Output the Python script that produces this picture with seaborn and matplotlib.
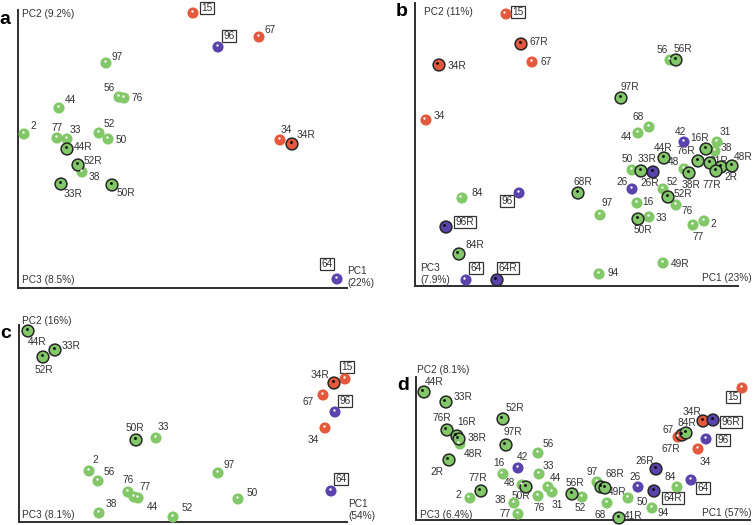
import pandas as pd
import seaborn as sns
import matplotlib.pyplot as plt
from matplotlib.transforms import offset_copy

sns.set_style('white')
plt.rcParams['font.family'] = ['Liberation Sans', 'DejaVu Sans']

#################### Data (PC scores, arbitrary units) ####################

a_names = ['15', '96', '67', '97', '56', '76', '44', '2', '77', '33', '52', '50',
           '44R', '52R', '38', '33R', '50R', '34', '34R', '64']
a_pc1 = [175, 200, 241, 88, 101, 106, 41, 6, 39, 49, 81, 90, 49, 60, 64, 43, 94, 262, 274, 319]
a_pc2 = [275, 241, 251, 225, 191, 190, 180, 154, 150, 149, 155, 149, 139, 123, 116, 104, 103, 148, 144, 9]

b_names = ['15', '67R', '67', '34R', '34', '56', '56R', '97R', '68', '44', '42', '16R', '31', '38',
           '44R', '76R', '31R', '2R', '77R', '48R', '48', '38R', '50', '33R', '26R', '26', '52',
           '52R', '76', '68R', '16', '97', '33', '50R', '2', '77', '84', '96', '96R', '84R', '64',
           '64R', '94', '49R']
b_pc1 = [91, 106, 117, 24, 11, 255, 261, 206, 234, 223, 269, 291, 302, 300,
         249, 283, 295, 306, 301, 317, 269, 274, 217, 226, 238, 217, 248,
         253, 261, 163, 222, 185, 234, 223, 289, 278, 47, 104, 31, 44, 51,
         82, 184, 248]
b_pc2 = [272, 242, 224, 221, 166, 226, 226, 188, 159, 153, 144, 137, 144, 135,
         128, 125, 123, 119, 115, 120, 117, 113, 116, 115, 114, 97, 97,
         89, 81, 93, 83, 71, 69, 67, 65, 61, 88, 93, 59, 32, 6,
         6, 12, 23]

c_names = ['44R', '33R', '52R', '15', '34R', '67', '96', '34', '50R', '33', '2', '56',
           '76', '77', '44', '38', '52', '97', '50', '64']
c_pc1 = [9, 36, 24, 326, 315, 304, 316, 306, 117, 137, 70, 79, 109, 115, 119, 80, 154, 199, 219, 312]
c_pc2 = [191, 172, 165, 143, 139, 127, 110, 94, 82, 84, 51, 41, 30, 25, 24, 9, 5, 49, 23, 31]

d_names = ['44R', '33R', '76R', '16R', '38R', '48R', '2R', '52R', '97R', '56', '42', '16',
           '33', '44', '31', '48', '50R', '76', '77R', '2', '38', '77', '56R', '52', '97',
           '49R', '68R', '68', '41R', '50', '94', '26', '26R', '84', '64R', '64', '34R',
           '96R', '67', '67R', '84R', '96', '34', '15']
d_pc1 = [8, 30, 31, 41, 43, 44, 33, 87, 90, 122, 102, 87,
         123, 132, 136, 106, 110, 122, 65, 54, 98, 102, 156, 166, 181,
         185, 189, 191, 203, 212, 236, 222, 240, 261, 238, 275, 287,
         297, 262, 266, 270, 290, 282, 326]
d_pc2 = [128, 118, 90, 84, 81, 76, 60, 101, 75, 67, 52, 46,
         46, 33, 28, 35, 33, 24, 29, 22, 17, 6, 26, 23, 38,
         33, 32, 17, 2, 22, 12, 33, 51, 33, 29, 40, 99,
         100, 83, 85, 87, 81, 71, 132]

red_ids = ['15', '67', '34']
purple_ids = ['96', '64', '42', '26']
boxed_ids = ['15', '96', '64']
plain_r = {'b': ['49R'], 'd': ['48R']}

#################### Layout (label offsets in pixels, x right / y up) ####################

a_off = [(14, 5), (11, 11), (11, 7), (11, 6), (-10, 9), (13, 0), (11, 8), (9, 8), (0, 10), (8, 9),
         (10, 9), (13, -1), (16, 2), (15, 4), (12, -5), (12, -10), (14, -8), (6, 10), (14, 9), (-10, 15)]
b_off = [(12, 2), (18, 2), (14, 0), (18, -1), (13, 4), (-8, 10), (7, 11), (9, 11), (-11, 10), (-12, -4),
         (-4, 10), (-6, 11), (8, 10), (11, 3), (-1, 10), (-12, 10), (9, 2), (10, -10), (-4, -14), (11, 9),
         (-10, 7), (2, -12), (-5, 11), (6, 12), (-3, -11), (-10, 7), (9, 7), (15, 3), (11, -6), (5, 11),
         (11, 1), (7, 12), (12, -1), (5, -11), (9, -3), (5, -12), (15, 5), (-12, -8), (19, 5), (16, 9),
         (10, 12), (11, 12), (14, 1), (17, -1)]
c_off = [(9, -11), (16, 4), (1, -13), (2, 12), (-14, 8), (-15, -7), (10, 11), (-12, -12), (-1, 12), (7, 11),
         (6, 11), (11, 9), (0, 12), (11, 10), (14, -9), (12, 9), (14, 9), (11, 8), (14, 6), (10, 12)]
d_off = [(10, 10), (17, 5), (-5, 12), (10, 14), (18, 1), (13, -10), (-12, -12), (12, 11), (7, 13), (10, 9),
         (4, 11), (-4, 11), (9, 8), (7, 9), (5, -13), (-13, 2), (-5, -9), (1, -12), (-3, 13), (-12, 3),
         (-14, 3), (-13, 0), (3, 11), (-2, -11), (-5, 10), (16, -5), (10, 14), (-7, -12), (14, 2), (14, -4),
         (11, -5), (-3, 10), (-11, 8), (-7, 10), (19, -7), (12, -8), (-11, 9), (18, -2), (-10, 7), (-11, -14),
         (1, 10), (17, -1), (7, -13), (-9, -9)]

W, H = 753, 525
# axes corner (left, bottom) and size in pixels, axis titles
panels = [
    ('a', a_names, a_pc1, a_pc2, a_off, (18, 288, 329, 278),
     [('PC2 (9.2%)', 4, 274), ('PC3 (8.5%)', 4, 8), ('PC1\n(22%)', 329, 11)]),
    ('b', b_names, b_pc1, b_pc2, b_off, (415, 286, 323, 283),
     [('PC2 (11%)', 9, 274), ('PC3\n(7.9%)', 5, 12), ('PC1 (23%)', 287, 8)]),
    ('c', c_names, c_pc1, c_pc2, c_off, (19, 522, 328, 197),
     [('PC2 (16%)', 3, 201), ('PC3 (8.1%)', 3, 7), ('PC1\n(54%)', 329, 12)]),
    ('d', d_names, d_pc1, d_pc2, d_off, (416, 520, 334, 143),
     [('PC2 (8.1%)', 1, 150), ('PC3 (6.4%)', 4, 5), ('PC1 (57%)', 286, 7)]),
]

palette = {'green': '#82c768', 'red': '#e4583b', 'purple': '#5a43ad'}
txt_col = '#333333'


def group_of(name):
    base = name.rstrip('R')
    if base in red_ids:
        return 'red'
    if base in purple_ids:
        return 'purple'
    return 'green'


fig = plt.figure(figsize=(W / 100, H / 100), dpi=100)

for letter, names, pc1, pc2, offs, (left, bottom, w, h), titles in panels:
    ax = fig.add_axes([left / W, 1 - bottom / H, w / W, h / H])
    df = pd.DataFrame({'name': names, 'pc1': pc1, 'pc2': pc2})
    df['group'] = df['name'].apply(group_of)
    df['ring'] = df['name'].str.endswith('R') & ~df['name'].isin(plain_r.get(letter, []))

    plain = df[~df['ring']]
    ringed = df[df['ring']]
    sns.scatterplot(data=plain, x='pc1', y='pc2', hue='group', palette=palette, s=64,
                    edgecolor='none', legend=False, ax=ax, zorder=3, clip_on=False)
    sns.scatterplot(data=ringed, x='pc1', y='pc2', hue='group', palette=palette, s=72,
                    edgecolor='#262626', linewidth=1.1, legend=False, ax=ax, zorder=4, clip_on=False)

    # little highlight dots: white on plain, black on ringed
    hl = offset_copy(ax.transData, fig=fig, x=-1.5, y=2, units='dots')
    ax.scatter(plain['pc1'], plain['pc2'], s=3, color='white', transform=hl, zorder=5,
               clip_on=False, linewidths=0)
    ax.scatter(ringed['pc1'], ringed['pc2'], s=4, color='black', transform=hl, zorder=5,
               clip_on=False, linewidths=0)

    for (name, x, y), (dx, dy) in zip(df[['name', 'pc1', 'pc2']].values, offs):
        box = None
        if name.rstrip('R') in boxed_ids:
            box = dict(boxstyle='square,pad=0.12', fc='white', ec='#333333', lw=0.9)
        ax.annotate(name, (x, y), xytext=(dx, dy), textcoords='offset pixels',
                    ha='center', va='center', fontsize=7.3, color=txt_col,
                    bbox=box, zorder=2, annotation_clip=False)

    for t, tx, ty in titles:
        ax.text(tx, ty, t, ha='left', va='center', fontsize=7.3, color=txt_col,
                linespacing=1.25, clip_on=False)
    ax.text(-13, h - 9, letter, ha='center', va='center', fontsize=14,
            fontweight='bold', color='black', clip_on=False)

    ax.set_xlim(0, w)
    ax.set_ylim(0, h)
    ax.set_xticks([])
    ax.set_yticks([])
    ax.set_xlabel('')
    ax.set_ylabel('')
    ax.patch.set_alpha(0)
    for side in ['top', 'right']:
        ax.spines[side].set_visible(False)
    for side in ['left', 'bottom']:
        ax.spines[side].set_color('#2e2e2e')
        ax.spines[side].set_linewidth(1.4)

fig.savefig('out.png', dpi=100)
